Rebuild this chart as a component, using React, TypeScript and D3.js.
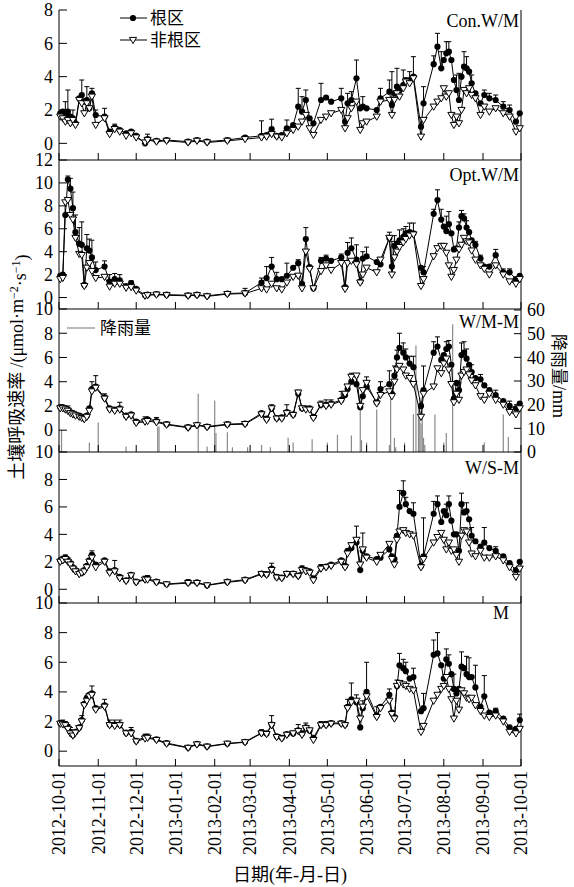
import { useRef, useEffect } from 'react';
import * as d3 from 'd3';

// measurement dates (shared by all treatments)
const dates = [
  '2012-10-02', '2012-10-04', '2012-10-06', '2012-10-08', '2012-10-10', '2012-10-12', '2012-10-14',
  '2012-10-17', '2012-10-19', '2012-10-21', '2012-10-23', '2012-10-25', '2012-10-27', '2012-10-30',
  '2012-11-06', '2012-11-10', '2012-11-14', '2012-11-18', '2012-11-23', '2012-11-27', '2012-12-01',
  '2012-12-08', '2012-12-10', '2012-12-17', '2012-12-25', '2013-01-11', '2013-01-18', '2013-01-26',
  '2013-02-11', '2013-02-25', '2013-03-10', '2013-03-14', '2013-03-18', '2013-03-22', '2013-03-26',
  '2013-03-30', '2013-04-04', '2013-04-08', '2013-04-11', '2013-04-14', '2013-04-17', '2013-04-20',
  '2013-04-26', '2013-04-30', '2013-05-04', '2013-05-12', '2013-05-15', '2013-05-17', '2013-05-20',
  '2013-05-24', '2013-05-27', '2013-05-29', '2013-06-01', '2013-06-09', '2013-06-12', '2013-06-19',
  '2013-06-21', '2013-06-23', '2013-06-25', '2013-06-27', '2013-06-30', '2013-07-02', '2013-07-05',
  '2013-07-08', '2013-07-14', '2013-07-16', '2013-07-24', '2013-07-27', '2013-07-30', '2013-08-01',
  '2013-08-03', '2013-08-05', '2013-08-07', '2013-08-09', '2013-08-11', '2013-08-13', '2013-08-15',
  '2013-08-17', '2013-08-19', '2013-08-21', '2013-08-23', '2013-08-26', '2013-08-30', '2013-09-02',
  '2013-09-06', '2013-09-11', '2013-09-17', '2013-09-22', '2013-09-27', '2013-09-30',
];

// Con.W/M
const conRoot = [1.8, 1.9, 1.7, 1.9, 1.6, 1.5, 1.2, 2.7, 2.9, 2.5, 2.6, 2.1, 3.0, 1.7, 1.6, 0.7, 0.95, 0.8, 0.6, 0.7, 0.45, 0.0, 0.25, 0.15, 0.2, 0.1, 0.2, 0.1, 0.2, 0.35, 0.45, 0.5, 0.85, 0.45, 0.5, 0.9,
  1.1, 2.2, 1.9, 2.6, 1.5, 1.2, 2.6, 2.75, 2.5, 2.7, 1.3, 2.4, 2.6, 3.9, 2.1, 2.2, 2.1, 2.0, 2.7, 3.1, 2.3, 3.0, 3.4, 3.2, 3.5, 3.8, 3.8, 4.0, 1.0, 2.4,
  4.75, 5.8, 4.5, 5.0, 5.4, 5.5, 5.0, 3.8, 3.2, 2.6, 4.0, 4.6, 4.5, 4.3, 3.6, 3.0, 2.4, 2.9, 2.7, 2.6, 2.2, 2.0, 1.3, 1.8];
const conNon = [1.6, 1.5, 1.3, 1.4, 1.2, 1.4, 1.1, 2.6, 2.4, 1.8, 2.4, 2.1, 2.8, 1.1, 1.5, 0.55, 0.85, 0.7, 0.45, 0.6, 0.35, 0.05, 0.2, 0.1, 0.15, 0.05, 0.15, 0.05, 0.15, 0.25, 0.35, 0.4, 0.55, 0.4, 0.35, 0.6,
  0.8, 1.0, 1.3, 1.7, 0.9, 0.5, 1.4, 1.6, 1.8, 2.0, 0.9, 1.5, 2.1, 2.5, 0.8, 1.2, 1.3, 1.6, 2.5, 2.6, 1.7, 2.6, 3.0, 2.8, 3.3, 3.7, 3.6, 3.9, 0.4, 1.4,
  2.2, 2.5, 2.7, 3.3, 2.8, 3.0, 1.7, 1.1, 1.6, 1.2, 2.0, 3.2, 3.0, 3.3, 2.9, 2.7, 1.7, 2.2, 1.9, 2.1, 1.8, 1.6, 0.7, 0.9];
const conErr = [0, 0, 0.8, 1.3, 0, 0.5, 0, 0, 0.9, 0, 0.8, 0, 0.3, 0.3, 0.5, 0, 0.2, 0, 0, 0.1, 0, 0, 0.3, 0, 0, 0, 0, 0, 0.1, 0.1, 0.9, 0, 0.6, 0, 0, 0.5,
  0, 1.1, 0.9, 0.6, 0, 0, 1.0, 0, 0, 0.6, 0, 0.6, 0.5, 1.1, 0, 0.6, 0, 0, 0.6, 0.7, 2.0, 0, 1.1, 0, 0.9, 0, 0.5, 1.2, 0, 1.0,
  0.5, 0.8, 1.0, 0, 0.7, 0.6, 0, 0, 0.9, 1.6, 0, 0.9, 0.7, 0, 0.5, 0, 0, 0.3, 0.3, 0.3, 0.3, 0.3, 0, 0];

// Opt.W/M
const optRoot = [1.9, 2.0, 7.2, 10.3, 9.5, 7.8, 5.7, 4.7, 4.6, 1.1, 4.3, 4.1, 3.5, 2.4, 2.7, 1.4, 1.6, 1.5, 1.0, 1.25, 0.75, 0.2, 0.25, 0.3, 0.25, 0.2, 0.25, 0.15, 0.35, 0.4, 1.3, 1.7, 2.7, 1.6, 1.6, 1.9,
  2.6, 3.0, 1.2, 5.1, 2.65, 0.8, 3.2, 3.4, 3.2, 3.5, 0.9, 3.9, 4.3, 3.3, 1.4, 3.4, 3.6, 3.1, 2.9, 5.2, 2.7, 4.5, 4.7, 5.0, 5.3, 5.6, 5.7, 5.6, 2.6, 2.2,
  7.3, 8.5, 6.8, 6.2, 5.8, 6.4, 5.6, 4.2, 4.3, 6.1, 7.1, 6.9, 6.1, 5.7, 5.0, 4.6, 3.4, 2.7, 2.7, 3.7, 2.2, 2.2, 1.6, 1.9];
const optNon = [1.6, 1.7, 8.3, 8.5, 7.2, 6.8, 5.2, 3.8, 3.7, 1.0, 2.6, 3.0, 2.3, 1.7, 1.8, 0.95, 1.2, 1.2, 0.85, 0.9, 0.6, 0.15, 0.2, 0.25, 0.2, 0.15, 0.2, 0.1, 0.3, 0.35, 0.8, 0.7, 1.2, 0.8, 0.7, 1.3,
  1.8, 1.9, 0.8, 4.0, 2.5, 0.8, 2.3, 2.8, 2.4, 3.0, 0.75, 3.0, 3.2, 2.9, 1.3, 2.0, 2.6, 2.2, 3.3, 5.2, 2.0, 3.5, 4.0, 4.4, 4.8, 5.1, 5.4, 5.5, 1.0, 1.6,
  3.6, 4.3, 4.5, 4.5, 3.9, 2.8, 1.8, 2.4, 3.3, 4.2, 4.6, 5.2, 4.9, 4.8, 4.1, 3.3, 2.8, 2.5, 2.0, 2.8, 2.0, 1.4, 1.2, 1.6];
const optErr = [0, 0, 0, 0.3, 0.9, 1.4, 1.5, 1.4, 2.0, 0, 1.2, 1.0, 1.5, 0.7, 0.5, 0.6, 0.5, 0.5, 0, 0.2, 0, 0, 0, 0, 0, 0, 0, 0, 0.1, 0.4, 0.4, 1.0, 0.8, 0.6, 0, 1.1,
  0, 0.3, 0, 1.0, 0, 0, 0.3, 0.3, 0, 0.3, 0, 0.9, 0.9, 1.3, 0, 0.6, 0.8, 0, 0.6, 0.5, 2.2, 0.9, 0, 0.9, 0.7, 0.6, 0.8, 0.9, 0, 0.5,
  0.4, 0.9, 0.9, 0, 1.3, 1.1, 0, 0, 0, 0.5, 0.5, 0.4, 0.6, 0, 0, 0.3, 0.3, 0, 0, 0.5, 0.3, 0.3, 0, 0];

// W/M-M
const wmmRoot = [1.9, 1.9, 1.8, 1.7, 1.5, 1.4, 1.3, 1.2, 1.1, 1.0, 1.2, 1.8, 3.4, 3.6, 2.7, 1.8, 1.7, 1.8, 1.2, 1.3, 0.7, 0.8, 0.9, 0.75, 0.5, 0.25, 0.45, 0.3, 0.5, 0.55, 1.4, 0.95, 1.8, 1.0, 1.05, 1.5,
  1.3, 3.0, 1.8, 1.8, 1.8, 1.1, 2.1, 2.1, 2.2, 2.5, 2.9, 3.4, 4.0, 3.8, 1.9, 2.8, 3.6, 2.3, 3.4, 3.8, 3.0, 4.5, 6.0, 6.8, 6.4, 6.0, 5.5, 5.2, 2.0, 3.3,
  6.4, 6.9, 5.8, 6.2, 6.7, 6.9, 5.4, 2.6, 3.9, 3.3, 6.2, 6.4, 5.9, 5.4, 4.8, 4.3, 4.2, 3.7, 3.3, 2.9, 2.4, 2.0, 1.8, 2.2];
const wmmNon = [1.8, 1.8, 1.7, 1.6, 1.4, 1.3, 1.2, 1.1, 1.0, 0.9, 1.1, 1.6, 3.2, 3.5, 2.6, 1.7, 1.6, 1.7, 1.1, 1.2, 0.6, 0.7, 0.75, 0.65, 0.45, 0.2, 0.4, 0.25, 0.45, 0.5, 1.3, 0.85, 1.8, 0.95, 0.95, 1.4,
  1.25, 3.1, 1.8, 1.7, 1.7, 1.0, 2.1, 2.0, 2.1, 2.4, 3.0, 3.6, 4.4, 4.5, 2.0, 3.3, 3.9, 2.2, 2.9, 3.2, 2.8, 4.0, 5.0, 5.3, 5.0, 4.5, 4.3, 3.8, 1.1, 3.0,
  3.6, 5.1, 4.7, 5.5, 5.9, 5.0, 3.8, 2.3, 3.0, 2.5, 4.5, 4.8, 5.0, 4.6, 4.1, 3.7, 2.8, 2.5, 3.0, 2.5, 2.1, 1.5, 1.3, 1.8];
const wmmErr = [0, 0, 0, 0.3, 0, 0, 0, 0, 0, 0, 0, 0, 0.6, 0.9, 0.3, 0, 0, 0.5, 0, 0, 0, 0.3, 0, 0.3, 0, 0, 0, 0, 0, 0, 0, 0, 0.3, 0, 0, 0.6,
  0, 0.3, 0, 0, 0, 0, 0.3, 0.4, 0.3, 0.7, 0, 0, 0.7, 0.6, 0, 0, 0.8, 0, 0.6, 1.1, 0, 0.8, 0.6, 1.2, 0.8, 0.7, 0.6, 0.9, 0, 2.0,
  0.9, 0.8, 0, 0, 0.6, 0.5, 0, 0, 0, 0.6, 1.0, 0.9, 0.8, 0, 0.6, 0, 0.4, 0, 0, 0.4, 0, 0.4, 0, 0];

// W/S-M
const wsmRoot = [2.1, 2.2, 2.3, 2.1, 1.9, 1.6, 1.4, 1.2, 1.2, 1.4, 1.7, 2.1, 2.5, 1.8, 2.1, 1.3, 1.4, 0.9, 0.65, 1.05, 0.55, 0.75, 0.8, 0.55, 0.38, 0.5, 0.5, 0.3, 0.55, 0.7, 1.15, 1.1, 1.5, 0.9, 0.85, 1.15,
  1.15, 1.0, 1.5, 1.4, 1.3, 0.8, 1.6, 1.65, 1.8, 2.1, 1.7, 2.8, 3.0, 3.4, 1.4, 2.8, 2.4, 2.2, 2.3, 2.9, 2.4, 2.2, 3.9, 6.0, 7.0, 6.2, 5.7, 5.5, 1.7, 2.4,
  5.5, 6.2, 4.9, 5.7, 5.4, 6.2, 5.0, 4.0, 4.0, 2.8, 6.2, 5.6, 5.7, 5.1, 3.9, 3.5, 3.1, 3.4, 3.0, 2.8, 2.4, 1.9, 1.4, 2.0];
const wsmNon = [2.0, 2.1, 2.2, 2.0, 1.8, 1.5, 1.3, 1.1, 1.2, 1.3, 1.6, 2.0, 2.3, 1.6, 2.0, 1.2, 1.3, 0.8, 0.6, 1.0, 0.5, 0.7, 0.7, 0.5, 0.35, 0.45, 0.45, 0.28, 0.5, 0.65, 1.1, 1.05, 1.4, 0.85, 0.8, 1.1,
  1.1, 0.95, 1.4, 1.3, 1.2, 0.65, 1.5, 1.6, 1.7, 2.0, 1.6, 2.6, 3.2, 3.6, 1.8, 2.9, 2.3, 2.0, 2.5, 3.3, 2.2, 1.8, 3.6, 4.2, 4.3, 4.1, 4.0, 3.9, 1.6, 2.2,
  3.4, 3.8, 4.1, 3.6, 2.9, 3.4, 2.8, 2.9, 2.5, 2.0, 3.9, 4.3, 4.2, 3.4, 2.6, 2.4, 2.8, 2.3, 2.3, 2.4, 2.1, 1.6, 0.9, 1.5];
const wsmErr = [0, 0.2, 0.2, 0.2, 0, 0, 0, 0, 0, 0, 0, 0, 0.3, 0, 0, 0, 0.7, 0, 0, 0, 0, 0.2, 0.2, 0, 0, 0.2, 0, 0, 0, 0, 0, 0, 0.4, 0, 0, 0,
  0, 0, 0.2, 0, 0, 0, 0.2, 0, 0, 0, 0, 0, 0.4, 1.2, 0, 1.3, 0, 0, 0.3, 0.4, 0, 0, 0, 1.2, 0.9, 0.5, 0, 0.8, 0, 2.8,
  0.9, 0.6, 0, 0, 0.8, 0.6, 0, 0, 0, 0, 0.8, 0, 0.6, 0, 0.6, 0, 0, 1.1, 0, 0.3, 0, 0, 0, 0];

// M
const mRoot = [1.9, 1.9, 1.8, 1.6, 1.3, 1.1, 1.3, 1.6, 2.1, 3.2, 3.6, 3.8, 3.9, 2.9, 3.1, 1.8, 1.8, 1.8, 1.25, 1.3, 0.7, 0.95, 0.95, 0.8, 0.55, 0.25, 0.5, 0.33, 0.52, 0.63, 1.25, 1.2, 1.8, 1.0, 0.9, 1.15,
  1.2, 1.4, 1.2, 1.6, 1.4, 0.9, 1.8, 1.8, 1.9, 1.9, 1.8, 3.0, 3.5, 3.3, 1.6, 2.9, 4.0, 2.4, 3.0, 3.8, 2.6, 2.3, 4.4, 5.8, 5.6, 5.4, 4.9, 5.0, 2.7, 2.9,
  6.5, 6.6, 5.8, 4.9, 6.2, 5.9, 5.2, 4.2, 3.9, 4.2, 5.7, 5.6, 5.2, 5.0, 5.0, 4.3, 3.0, 3.7, 2.6, 2.7, 2.2, 1.6, 1.5, 2.1];
const mNon = [1.85, 1.8, 1.75, 1.5, 1.2, 1.05, 1.25, 1.55, 2.0, 3.1, 3.4, 3.7, 3.8, 2.8, 3.0, 1.75, 1.7, 1.75, 1.2, 1.2, 0.65, 0.85, 0.9, 0.75, 0.5, 0.22, 0.45, 0.3, 0.5, 0.6, 1.2, 1.15, 1.75, 0.95, 0.85, 1.1,
  1.2, 1.35, 1.1, 1.55, 1.4, 0.75, 1.75, 1.75, 1.85, 1.85, 1.75, 2.9, 3.3, 3.4, 2.2, 3.0, 3.7, 2.3, 2.9, 3.4, 2.5, 2.2, 4.4, 4.6, 4.5, 4.4, 4.2, 4.1, 1.3, 1.7,
  3.4, 3.8, 4.2, 4.4, 5.0, 4.2, 3.5, 2.2, 3.4, 2.8, 4.1, 3.9, 3.6, 3.5, 3.6, 3.1, 2.7, 2.4, 2.3, 2.4, 2.0, 1.3, 1.2, 1.5];
const mErr = [0, 0.2, 0.2, 0.2, 0.3, 0, 0, 0, 0.3, 0, 0, 0, 0.5, 0, 0.4, 0.3, 0.3, 0.3, 0, 0.3, 0, 0.2, 0.2, 0, 0, 0, 0, 0, 0, 0, 0.2, 0, 0.6, 0, 0, 0,
  0, 0.4, 0, 0.3, 0, 0, 0.2, 0.2, 0, 0, 0, 0.5, 1.1, 0.5, 0, 0.5, 2.0, 0.6, 0, 0.4, 0, 0, 0.4, 0.8, 0.6, 0.6, 0, 0.6, 0, 1.0,
  1.0, 1.4, 0, 0, 0.7, 0.6, 0, 1.0, 0, 0, 1.0, 0, 1.2, 1.3, 0, 1.5, 0, 1.4, 0, 0.2, 0, 0, 0, 0.4];

// rainfall (mm), shown in the W/M-M panel
const rainDates = ['2012-10-03', '2012-10-25', '2012-11-01', '2012-11-23', '2012-12-18', '2012-12-19', '2013-01-19', '2013-01-26',
  '2013-02-01', '2013-02-02', '2013-02-11', '2013-02-15', '2013-02-27', '2013-03-10', '2013-03-17', '2013-03-31', '2013-04-04',
  '2013-04-19', '2013-05-01', '2013-05-09', '2013-05-20', '2013-05-27', '2013-05-28', '2013-06-01', '2013-06-09', '2013-06-19',
  '2013-06-20', '2013-06-23', '2013-06-24', '2013-07-01', '2013-07-08', '2013-07-10', '2013-07-12', '2013-07-13', '2013-07-14',
  '2013-07-15', '2013-07-16', '2013-07-17', '2013-07-25', '2013-08-01', '2013-08-03', '2013-08-08', '2013-09-02', '2013-09-17', '2013-09-21'];
const rainMm = [9.4, 4, 12.5, 2.3, 10.8, 10.8, 24.6, 2.3, 21.8, 8, 8.3, 2, 2, 3, 2, 6, 4, 5.4, 4, 7.3, 7, 19.4, 5, 4, 18, 3, 27, 6, 2, 4,
  16, 45, 20, 23, 12, 20, 6, 3, 15.8, 4, 8, 54, 4, 15.8, 6.3];

const monthTicks = ['2012-10-01', '2012-11-01', '2012-12-01', '2013-01-01', '2013-02-01', '2013-03-01', '2013-04-01',
  '2013-05-01', '2013-06-01', '2013-07-01', '2013-08-01', '2013-09-01', '2013-10-01'];
const rainTicks = [0, 10, 20, 30, 40, 50, 60];

const panelNames = ['Con.W/M', 'Opt.W/M', 'W/M-M', 'W/S-M', 'M'];
const yTicks = [[0, 2, 4, 6, 8], [0, 2, 4, 6, 8, 10, 12], [0, 2, 4, 6, 8, 10], [0, 2, 4, 6, 8, 10], [0, 2, 4, 6, 8, 10]];

const SERIF = '"Liberation Serif", serif';
const CJK = '"Noto Sans CJK SC", sans-serif';

export default function App() {
  const ref = useRef<SVGSVGElement>(null);

  useEffect(() => {
    const svg = d3.select(ref.current);
    svg.selectAll('*').remove();
    const parse = d3.timeParse('%Y-%m-%d');
    const L = 59, R = 521;
    const x = d3.scaleTime()
      .domain([parse('2012-10-01')!, parse('2013-10-01')!])
      .range([L, R]);
    const t = dates.map(d => parse(d)!);

    const layout = [
      { top: 10, bottom: 160, domain: [-1, 8], lx: 519, ly: 27, root: conRoot, non: conNon, err: conErr },
      { top: 160, bottom: 309, domain: [-1, 12], lx: 519, ly: 181, root: optRoot, non: optNon, err: optErr },
      { top: 309, bottom: 452, domain: [-1.8, 10], lx: 519, ly: 328, root: wmmRoot, non: wmmNon, err: wmmErr },
      { top: 452, bottom: 603, domain: [-1, 10], lx: 519, ly: 474, root: wsmRoot, non: wsmNon, err: wsmErr },
      { top: 603, bottom: 766, domain: [-1, 10], lx: 509, ly: 619, root: mRoot, non: mNon, err: mErr },
    ];

    const tri = 'M-3.6,-2.6L3.6,-2.6L0,3.6Z';

    layout.forEach((p, i) => {
      const y = d3.scaleLinear().domain(p.domain).range([p.bottom, p.top]);
      const g = svg.append('g');

      // rainfall bars behind the data (W/M-M)
      if (i === 2) {
        const yr = d3.scaleLinear().domain([0, 60]).range([p.bottom, 310]);
        g.append('g').selectAll('line').data(rainDates).join('line')
          .attr('x1', d => x(parse(d)!)).attr('x2', d => x(parse(d)!))
          .attr('y1', yr(0)).attr('y2', (_d, k) => yr(rainMm[k]))
          .attr('stroke', '#8a8a8a').attr('stroke-width', 1.2);
        rainTicks.forEach(v => {
          g.append('line').attr('x1', R - 7).attr('x2', R).attr('y1', yr(v)).attr('y2', yr(v))
            .attr('stroke', '#000');
          g.append('text').attr('x', R + 6).attr('y', yr(v)).attr('dy', '0.35em')
            .attr('font-size', 18).attr('font-family', SERIF).text(v);
        });
        g.append('line').attr('x1', 67).attr('x2', 95).attr('y1', 328).attr('y2', 328)
          .attr('stroke', '#8a8a8a').attr('stroke-width', 1.2);
        g.append('text').attr('x', 100).attr('y', 334).attr('font-size', 17)
          .attr('font-family', CJK).text('降雨量');
      }

      // frame: left, right, bottom
      g.append('line').attr('x1', L).attr('x2', L).attr('y1', p.top).attr('y2', p.bottom).attr('stroke', '#000');
      g.append('line').attr('x1', R).attr('x2', R).attr('y1', p.top).attr('y2', p.bottom).attr('stroke', '#000');
      g.append('line').attr('x1', L).attr('x2', R).attr('y1', p.bottom).attr('y2', p.bottom).attr('stroke', '#000');

      // x ticks (inward)
      monthTicks.forEach(m => {
        const xm = x(parse(m)!);
        g.append('line').attr('x1', xm).attr('x2', xm).attr('y1', p.bottom).attr('y2', p.bottom - 7).attr('stroke', '#000');
      });

      // y ticks (inward)
      yTicks[i].forEach(v => {
        g.append('line').attr('x1', L).attr('x2', L + 8).attr('y1', y(v)).attr('y2', y(v)).attr('stroke', '#000');
        g.append('text').attr('x', 53).attr('y', y(v)).attr('dy', '0.35em').attr('text-anchor', 'end')
          .attr('font-size', 18).attr('font-family', SERIF).text(v);
      });

      g.append('text').attr('x', p.lx).attr('y', p.ly).attr('text-anchor', 'end')
        .attr('font-size', 18).attr('font-family', SERIF).text(panelNames[i]);

      const line = d3.line<number>().x((_v, k) => x(t[k])).y(v => y(v));

      // error bars (upper side only)
      const eb = g.append('g').attr('stroke', '#000').attr('stroke-width', 1);
      p.err.forEach((e, k) => {
        if (!e) return;
        const xx = x(t[k]);
        const y0 = y(p.root[k]), y1 = y(p.root[k] + e);
        eb.append('line').attr('x1', xx).attr('x2', xx).attr('y1', y0).attr('y2', y1);
        eb.append('line').attr('x1', xx - 2.5).attr('x2', xx + 2.5).attr('y1', y1).attr('y2', y1);
      });

      g.append('path').datum(p.root).attr('d', line).attr('fill', 'none').attr('stroke', '#000').attr('stroke-width', 1);
      g.append('g').selectAll('circle').data(p.root).join('circle')
        .attr('cx', (_v, k) => x(t[k])).attr('cy', v => y(v)).attr('r', 3.1).attr('fill', '#000');

      g.append('path').datum(p.non).attr('d', line).attr('fill', 'none').attr('stroke', '#000').attr('stroke-width', 1);
      g.append('g').selectAll('path').data(p.non).join('path')
        .attr('d', tri)
        .attr('transform', (v, k) => `translate(${x(t[k])},${y(v)})`)
        .attr('fill', '#fff').attr('stroke', '#000').attr('stroke-width', 1);
    });

    // legend
    const lg = svg.append('g');
    lg.append('line').attr('x1', 120).attr('x2', 147).attr('y1', 18).attr('y2', 18).attr('stroke', '#000');
    lg.append('circle').attr('cx', 133).attr('cy', 18).attr('r', 3.1).attr('fill', '#000');
    lg.append('text').attr('x', 150).attr('y', 24).attr('font-size', 17).attr('font-family', CJK).text('根区');
    lg.append('line').attr('x1', 120).attr('x2', 147).attr('y1', 40).attr('y2', 40).attr('stroke', '#000');
    lg.append('path').attr('d', tri).attr('transform', 'translate(133,40)').attr('fill', '#fff').attr('stroke', '#000');
    lg.append('text').attr('x', 150).attr('y', 46).attr('font-size', 17).attr('font-family', CJK).text('非根区');

    // x tick labels
    monthTicks.forEach(m => {
      svg.append('text')
        .attr('transform', `translate(${x(parse(m)!)},771) rotate(-90)`)
        .attr('dy', '0.35em').attr('text-anchor', 'end')
        .attr('font-size', 18).attr('font-family', SERIF).text(m);
    });

    const xt = svg.append('text').attr('x', 290).attr('y', 881).attr('text-anchor', 'middle')
      .attr('font-size', 18).attr('font-family', CJK);
    xt.append('tspan').text('日期');
    xt.append('tspan').attr('font-family', SERIF).text('(');
    xt.append('tspan').text('年');
    xt.append('tspan').attr('font-family', SERIF).text('-');
    xt.append('tspan').text('月');
    xt.append('tspan').attr('font-family', SERIF).text('-');
    xt.append('tspan').text('日');
    xt.append('tspan').attr('font-family', SERIF).text(')');

    // left axis title
    const yt = svg.append('text').attr('transform', 'translate(23,367) rotate(-90)')
      .attr('text-anchor', 'middle').attr('font-size', 18).attr('font-family', CJK);
    yt.append('tspan').text('土壤呼吸速率 ');
    yt.append('tspan').attr('font-family', SERIF).text('/(μmol·m');
    yt.append('tspan').attr('font-family', SERIF).attr('dy', '-0.45em').attr('font-size', 12).text('−2');
    yt.append('tspan').attr('font-family', SERIF).attr('dy', '0.45em').text('·s');
    yt.append('tspan').attr('font-family', SERIF).attr('dy', '-0.45em').attr('font-size', 12).text('−1');
    yt.append('tspan').attr('font-family', SERIF).attr('dy', '0.45em').text(')');

    // right axis title
    const rt = svg.append('text').attr('transform', 'translate(553,376) rotate(90)')
      .attr('text-anchor', 'middle').attr('font-size', 17).attr('font-family', CJK);
    rt.append('tspan').text('降雨量');
    rt.append('tspan').attr('font-family', SERIF).attr('font-size', 18).text('/mm');
  }, []);

  return (
    <svg ref={ref} width={574} height={887}
      style={{ position: 'absolute', left: 0, top: 0, background: '#fff' }} />
  );
}
